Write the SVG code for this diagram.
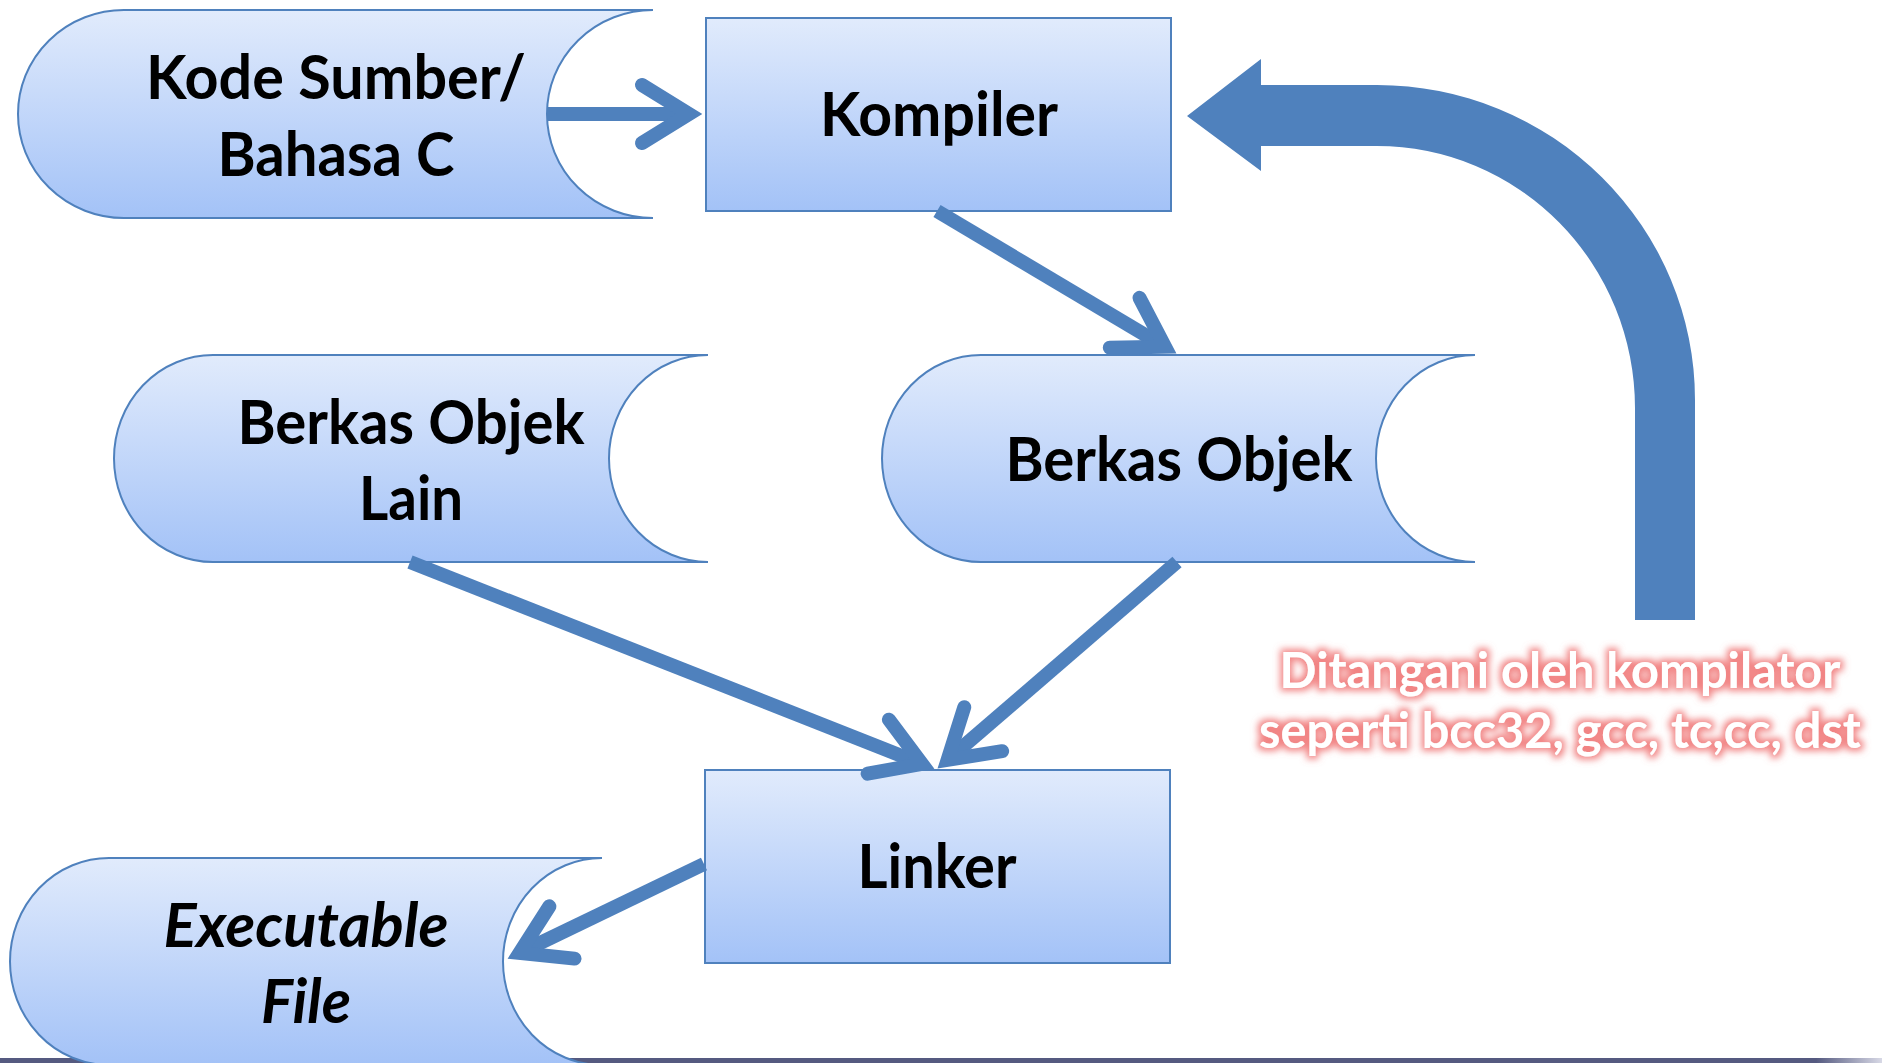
<svg xmlns="http://www.w3.org/2000/svg" width="1887" height="1063" viewBox="0 0 1887 1063">
  <defs>
    <linearGradient id="nodeFill" x1="0" y1="0" x2="0" y2="1">
      <stop offset="0" stop-color="#e1ebfc"/>
      <stop offset="1" stop-color="#a3c2f7"/>
    </linearGradient>
    <linearGradient id="barFill" x1="0" y1="0" x2="1" y2="0">
      <stop offset="0" stop-color="#555a80"/>
      <stop offset="0.965" stop-color="#555a80"/>
      <stop offset="1" stop-color="#d8d9e6"/>
    </linearGradient>
    <marker id="head" markerUnits="userSpaceOnUse" orient="auto" refX="0" refY="0" markerWidth="200" markerHeight="200" overflow="visible">
      <path d="M -47,-29 L 0,0 L -47,29" fill="none" stroke="#4f81bd" stroke-width="14" stroke-linecap="round" stroke-linejoin="miter"/>
    </marker>
    <filter id="glow" x="-5%" y="-30%" width="110%" height="160%">
      <feMorphology in="SourceAlpha" operator="dilate" radius="2.5" result="d"/>
      <feGaussianBlur in="d" stdDeviation="3.5" result="b"/>
      <feFlood flood-color="#ef6f6f" flood-opacity="0.85"/>
      <feComposite in2="b" operator="in" result="g"/>
      <feMerge>
        <feMergeNode in="g"/>
        <feMergeNode in="SourceGraphic"/>
      </feMerge>
    </filter>
  </defs>
  <style>
    .node { fill: url(#nodeFill); stroke: #4f81bd; stroke-width: 2; }
    .lbl { font-family: Lato, "Open Sans", sans-serif; font-weight: bold; font-size: 62px; fill: #000; text-anchor: middle; }
    .it { font-style: italic; }
    .conn { fill: none; stroke: #4f81bd; stroke-width: 14; stroke-linecap: butt; marker-end: url(#head); }
    .note { font-family: Lato, "Open Sans", sans-serif; font-weight: bold; font-size: 50px; fill: #ffffff; text-anchor: middle; filter: url(#glow); }
  </style>
  <rect x="0" y="0" width="1887" height="1063" fill="#ffffff"/>
  <rect x="0" y="1058" width="1882" height="5" fill="url(#barFill)"/>

  <g id="kode-sumber">
    <path class="node" d="M 124,10 L 653,10 A 106,104 0 0 0 653,218 L 124,218 A 106,104 0 0 1 124,10 Z"/>
    <text class="lbl" x="336" y="99" textLength="380" lengthAdjust="spacingAndGlyphs">Kode Sumber/</text>
    <text class="lbl" x="336" y="176" textLength="237" lengthAdjust="spacingAndGlyphs">Bahasa C</text>
  </g>

  <g id="kompiler">
    <rect class="node" x="706" y="18" width="465" height="193"/>
    <text class="lbl" x="939" y="136" textLength="238" lengthAdjust="spacingAndGlyphs">Kompiler</text>
  </g>

  <g id="berkas-objek-lain">
    <path class="node" d="M 213,355 L 708,355 A 99,103.5 0 0 0 708,562 L 213,562 A 99,103.5 0 0 1 213,355 Z"/>
    <text class="lbl" x="411" y="444" textLength="347" lengthAdjust="spacingAndGlyphs">Berkas Objek</text>
    <text class="lbl" x="411" y="520" textLength="104" lengthAdjust="spacingAndGlyphs">Lain</text>
  </g>

  <g id="berkas-objek">
    <path class="node" d="M 981,355 L 1475,355 A 99,103.5 0 0 0 1475,562 L 981,562 A 99,103.5 0 0 1 981,355 Z"/>
    <text class="lbl" x="1179" y="481" textLength="347" lengthAdjust="spacingAndGlyphs">Berkas Objek</text>
  </g>

  <g id="linker">
    <rect class="node" x="705" y="770" width="465" height="193"/>
    <text class="lbl" x="937" y="888" textLength="159" lengthAdjust="spacingAndGlyphs">Linker</text>
  </g>

  <g id="executable-file">
    <path class="node" d="M 109,858 L 602,858 A 99,103.5 0 0 0 602,1065 L 109,1065 A 99,103.5 0 0 1 109,858 Z"/>
    <text class="lbl it" x="306" y="947" textLength="285" lengthAdjust="spacingAndGlyphs">Executable</text>
    <text class="lbl it" x="306" y="1023" textLength="90" lengthAdjust="spacingAndGlyphs">File</text>
  </g>

  <g id="connectors">
    <line class="conn" x1="548" y1="114" x2="689" y2="114"/>
    <line class="conn" x1="937" y1="211" x2="1165" y2="346.8"/>
    <line class="conn" x1="410" y1="562" x2="922" y2="763.9"/>
    <line class="conn" x1="1177" y1="562" x2="947.6" y2="759.9"/>
    <line class="conn" x1="704" y1="864" x2="519.6" y2="952.9"/>
    <path id="feedback-arrow" fill="#4f81bd" d="M 1635,620 L 1695,620 L 1695,400 A 318,315 0 0 0 1377,85 L 1261,85 L 1261,59 L 1187,116 L 1261,171 L 1261,146 L 1377,146 A 258,262 0 0 1 1635,408 Z"/>
  </g>

  <g id="note">
    <text class="note" x="1560" y="688" textLength="561" lengthAdjust="spacingAndGlyphs">Ditangani oleh kompilator</text>
    <text class="note" x="1560" y="748" textLength="602" lengthAdjust="spacingAndGlyphs">seperti bcc32, gcc, tc,cc, dst</text>
  </g>
</svg>
